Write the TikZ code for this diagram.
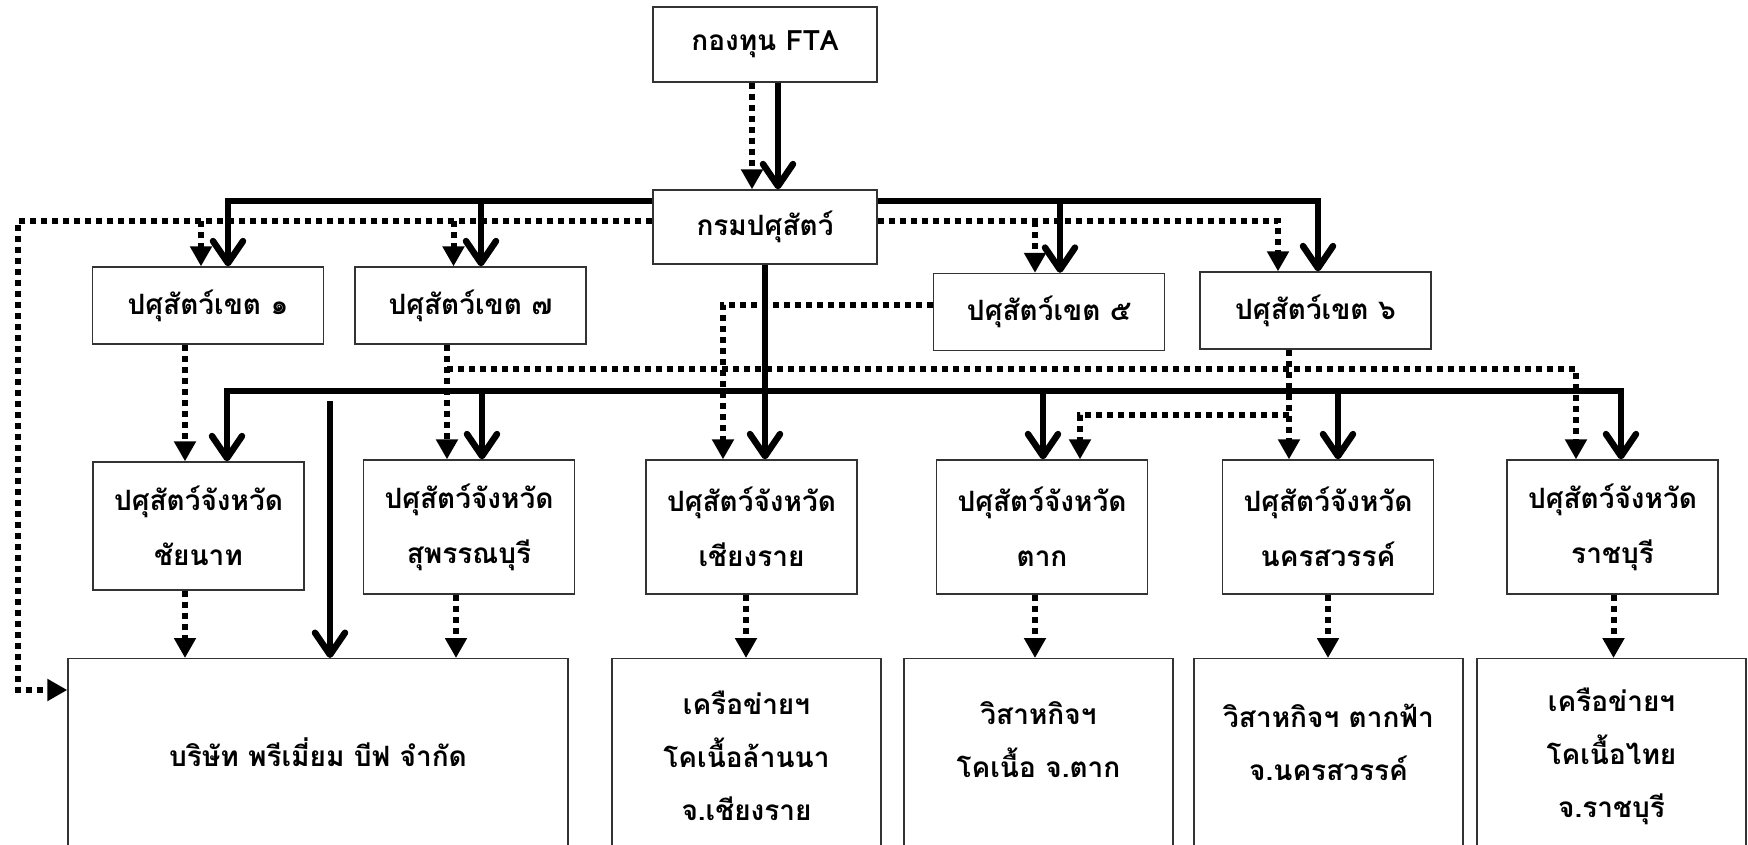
\documentclass[tikz,border=0pt]{standalone}
\usepackage{fontspec}
\usepackage{tikz}
\usetikzlibrary{arrows.meta}
\newfontfamily\thaifont[Script=Thai]{Loma}

\begin{document}
\begin{tikzpicture}[x=1pt,y=-1pt,
    box/.style={draw=black!80,line width=1.3pt,inner sep=0pt,align=center,font=\thaifont\bfseries\fontsize{28}{55}\selectfont},
    zonebox/.style={box,minimum width=231pt,minimum height=77pt},
    provbox/.style={box,minimum width=211pt,minimum height=134pt},
    endbox/.style={box,anchor=north,minimum width=269pt,minimum height=200pt},
    endtext/.style={inner sep=0pt,align=center,font=\thaifont\bfseries\fontsize{28}{53}\selectfont},
    solidline/.style={line width=6.5pt,>={Straight Barb[length=22pt,width=30pt,round]}},
    dotline/.style={line width=6pt,dash pattern=on 6pt off 5pt,>={Triangle[length=20pt,width=21pt]}}]
            \useasboundingbox (0,0) rectangle (1748,845);
            \clip (0,0) rectangle (1748,845);
            \coordinate (busA) at (0,201);
            \coordinate (busB) at (0,221);
            \coordinate (busZ) at (0,305);
            \coordinate (busC) at (0,369);
            \coordinate (busD) at (0,391);
            \coordinate (busDb) at (0,401);
            \coordinate (busE) at (0,415);
            \coordinate (dotL) at (18,690);
            \node[box,minimum width=224pt,minimum height=75pt] (fta) at (765,44.5) {กองทุน FTA};
            \node[box,minimum width=224pt,minimum height=74pt] (dld) at (765,227) {กรมปศุสัตว์};
            \node[zonebox] (z1) at (208,305.5) {ปศุสัตว์เขต ๑};
            \node[zonebox] (z7) at (470.5,305.5) {ปศุสัตว์เขต ๗};
            \node[zonebox] (z5) at (1049,312) {ปศุสัตว์เขต ๕};
            \node[zonebox] (z6) at (1315.5,310.5) {ปศุสัตว์เขต ๖};
            \node[provbox,minimum height=128pt] (chainat) at (198.5,526) {ปศุสัตว์จังหวัด\\ชัยนาท};
            \node[provbox] (suphan) at (469,527) {ปศุสัตว์จังหวัด\\สุพรรณบุรี};
            \node[provbox] (chiangrai) at (751.5,527) {ปศุสัตว์จังหวัด\\เชียงราย};
            \node[provbox] (tak) at (1042,527) {ปศุสัตว์จังหวัด\\ตาก};
            \node[provbox] (nakhon) at (1328,527) {ปศุสัตว์จังหวัด\\นครสวรรค์};
            \node[provbox] (ratchaburi) at (1612.5,527) {ปศุสัตว์จังหวัด\\ราชบุรี};
            \node[endbox,minimum width=500pt] (company) at (318,658) {};
            \node[endbox] (lanna) at (746.5,658) {};
            \node[endbox] (takent) at (1038.5,658) {};
            \node[endbox] (takfa) at (1328.5,658) {};
            \node[endbox] (rbnet) at (1611.5,658) {};
            \node[endtext] (companyt) at (318,752) {บริษัท พรีเมี่ยม บีฟ จำกัด};
            \node[endtext] (lannat) at (746.5,756) {เครือข่ายฯ\\โคเนื้อล้านนา\\จ.เชียงราย};
            \node[endtext] (takentt) at (1038.5,740) {วิสาหกิจฯ\\โคเนื้อ จ.ตาก};
            \node[endtext] (takfat) at (1328.5,742) {วิสาหกิจฯ ตากฟ้า\\จ.นครสวรรค์};
            \node[endtext] (rbnett) at (1611.5,756) {เครือข่ายฯ\\โคเนื้อไทย\\จ.ราชบุรี};
            \draw[dotline,->] ([xshift=-13pt]fta.south) -- ([xshift=-13pt]dld.north);
            \draw[solidline,->] ([xshift=13pt]fta.south) -- ([xshift=13pt]dld.north);
            \draw[solidline,->] (dld.west |- busA) -| ([xshift=20pt]z1.north);
            \draw[solidline,->] ([xshift=10.5pt]z7.north |- busA) -- ([xshift=10.5pt]z7.north);
            \draw[solidline,->] (dld.east |- busA) -| ([xshift=2.5pt]z6.north);
            \draw[solidline,->] ([xshift=11pt]z5.north |- busA) -- ([xshift=11pt]z5.north);
            \draw[dotline,->] (dld.west |- busB) -| (dotL) -- (company.west |- dotL);
            \draw[dotline,->] ([xshift=-7pt]z1.north |- busB) -- ([xshift=-7pt]z1.north);
            \draw[dotline,->] ([xshift=-17pt]z7.north |- busB) -- ([xshift=-17pt]z7.north);
            \draw[dotline,->] (dld.east |- busB) -| ([xshift=-37.5pt]z6.north);
            \draw[dotline,->] ([xshift=-14pt]z5.north |- busB) -- ([xshift=-14pt]z5.north);
            \draw[solidline,->] (dld.south) -- (dld.south |- chiangrai.north);
            \draw[solidline,<->] ([xshift=28.5pt]chainat.north) |- ([xshift=8.5pt]ratchaburi.north |- busD) -- ([xshift=8.5pt]ratchaburi.north);
            \draw[solidline,->] ([xshift=13pt]suphan.north |- busD) -- ([xshift=13pt]suphan.north);
            \draw[solidline,->] ([xshift=1pt]tak.north |- busD) -- ([xshift=1pt]tak.north);
            \draw[solidline,->] ([xshift=10pt]nakhon.north |- busD) -- ([xshift=10pt]nakhon.north);
            \draw[solidline,->] ([xshift=12pt]company.north |- busDb) -- ([xshift=12pt]company.north);
            \draw[dotline,->] ([xshift=-23pt]z1.south) -- ([xshift=-23pt]z1.south |- chainat.north);
            \draw[dotline,->] ([xshift=-23.5pt]z7.south) -- ([xshift=-23.5pt]z7.south |- suphan.north);
            \draw[dotline,->] ([xshift=-23.5pt]z7.south |- busC) -| ([xshift=-36.5pt]ratchaburi.north);
            \draw[dotline,->] (z5.west |- busZ) -| ([xshift=-28.5pt]chiangrai.north);
            \draw[dotline,->] ([xshift=-26.5pt]z6.south) -- ([xshift=-26.5pt]z6.south |- nakhon.north);
            \draw[dotline,->] ([xshift=-26.5pt]z6.south |- busE) -| ([xshift=38pt]tak.north);
            \draw[dotline,->] ([xshift=-13.5pt]chainat.south) -- ([xshift=-13.5pt]chainat.south |- company.north);
            \draw[dotline,->] ([xshift=-13pt]suphan.south) -- ([xshift=-13pt]suphan.south |- company.north);
            \draw[dotline,->] ([xshift=-5.5pt]chiangrai.south) -- ([xshift=-5.5pt]chiangrai.south |- lanna.north);
            \draw[dotline,->] ([xshift=-7pt]tak.south) -- ([xshift=-7pt]tak.south |- takent.north);
            \draw[dotline,->] (nakhon.south) -- (nakhon.south |- takfa.north);
            \draw[dotline,->] ([xshift=1pt]ratchaburi.south) -- ([xshift=1pt]ratchaburi.south |- rbnet.north);
          \end{tikzpicture}
\end{document}
